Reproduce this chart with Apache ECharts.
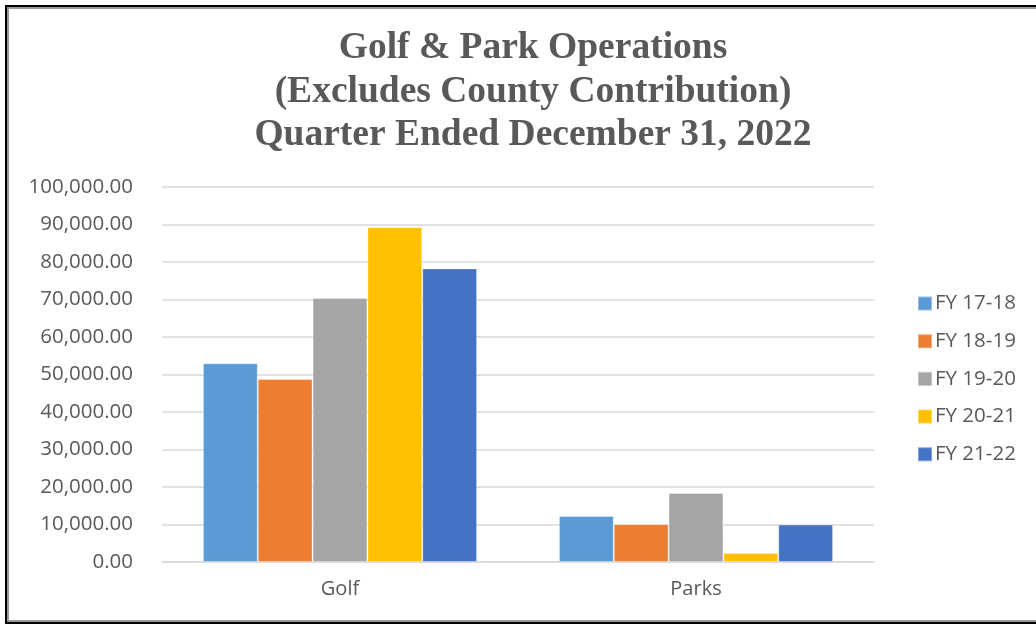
<!DOCTYPE html>
<html>
<head>
<meta charset="utf-8">
<script src="https://cdn.jsdelivr.net/npm/echarts@6/dist/echarts.min.js"></script>
<style>
  html, body { margin: 0; padding: 0; background: #fff; }
  #chart { position: absolute; left: 0; top: 0; width: 1036px; height: 624px; }
  #frame {
    position: absolute; left: 5px; top: 5px; width: 1040px; height: 615px;
    border: 2px solid #000; box-shadow: inset 0 0 0 2px #999;
    pointer-events: none;
  }
</style>
</head>
<body>
<div id="chart"></div>
<div id="frame"></div>
<script>
const categories = ['Golf', 'Parks']
const seriesNames = ['FY 17-18', 'FY 18-19', 'FY 19-20', 'FY 20-21', 'FY 21-22']
const seriesValues = [
  [53000, 12300],
  [48800, 10100],
  [70400, 18400],
  [89300, 2400],
  [78300, 10000],
]
const colors = ['#5b9bd5', '#ed7d31', '#a5a5a5', '#ffc000', '#4472c4']
const titleLines = [
  'Golf & Park Operations',
  '(Excludes County Contribution)',
  'Quarter Ended December 31, 2022',
]

const textColor = '#595959'
const labelFont = 'Open Sans'
const chart = echarts.init(document.getElementById('chart'))

chart.setOption({
  animation: false,
  title: {
    text: titleLines.join('\n'),
    left: 528,
    textAlign: 'center',
    top: 22,
    textStyle: {
      fontFamily: 'Liberation Serif',
      fontWeight: 'bold',
      fontSize: 37.5,
      lineHeight: 43.5,
      color: textColor,
    },
  },
  legend: {
    orient: 'vertical',
    left: 912,
    top: 288,
    itemWidth: 14,
    itemHeight: 14,
    itemGap: 16.7,
    icon: 'rect',
    textStyle: { fontFamily: labelFont, fontSize: 20.5, lineHeight: 21, color: textColor, padding: [0, 0, 0, -2] },
    data: seriesNames,
  },
  grid: {
    left: 162,
    right: 162,
    top: 187,
    bottom: 62,
    containLabel: false,
  },
  xAxis: {
    type: 'category',
    data: categories,
    axisLine: { show: true, lineStyle: { color: '#d9d9d9', width: 1.5 } },
    axisTick: { show: false },
    axisLabel: { fontFamily: labelFont, fontSize: 20, color: textColor, margin: 17 },
  },
  yAxis: {
    type: 'value',
    min: 0,
    max: 100000,
    interval: 10000,
    axisLine: { show: false },
    axisTick: { show: false },
    splitLine: { lineStyle: { color: '#d9d9d9', width: 1.5 } },
    axisLabel: {
      fontFamily: labelFont,
      fontSize: 20.5,
      color: textColor,
      margin: 29,
      formatter: (v) => v.toLocaleString('en-US', { minimumFractionDigits: 2, maximumFractionDigits: 2 }),
    },
  },
  series: seriesNames.map((name, i) => ({
    name,
    type: 'bar',
    data: seriesValues[i],
    barGap: '0%',
    barCategoryGap: '23%',
    itemStyle: { color: colors[i], borderColor: 'rgba(255,255,255,0.35)', borderWidth: 1 },
  })),
})
</script>
</body>
</html>
